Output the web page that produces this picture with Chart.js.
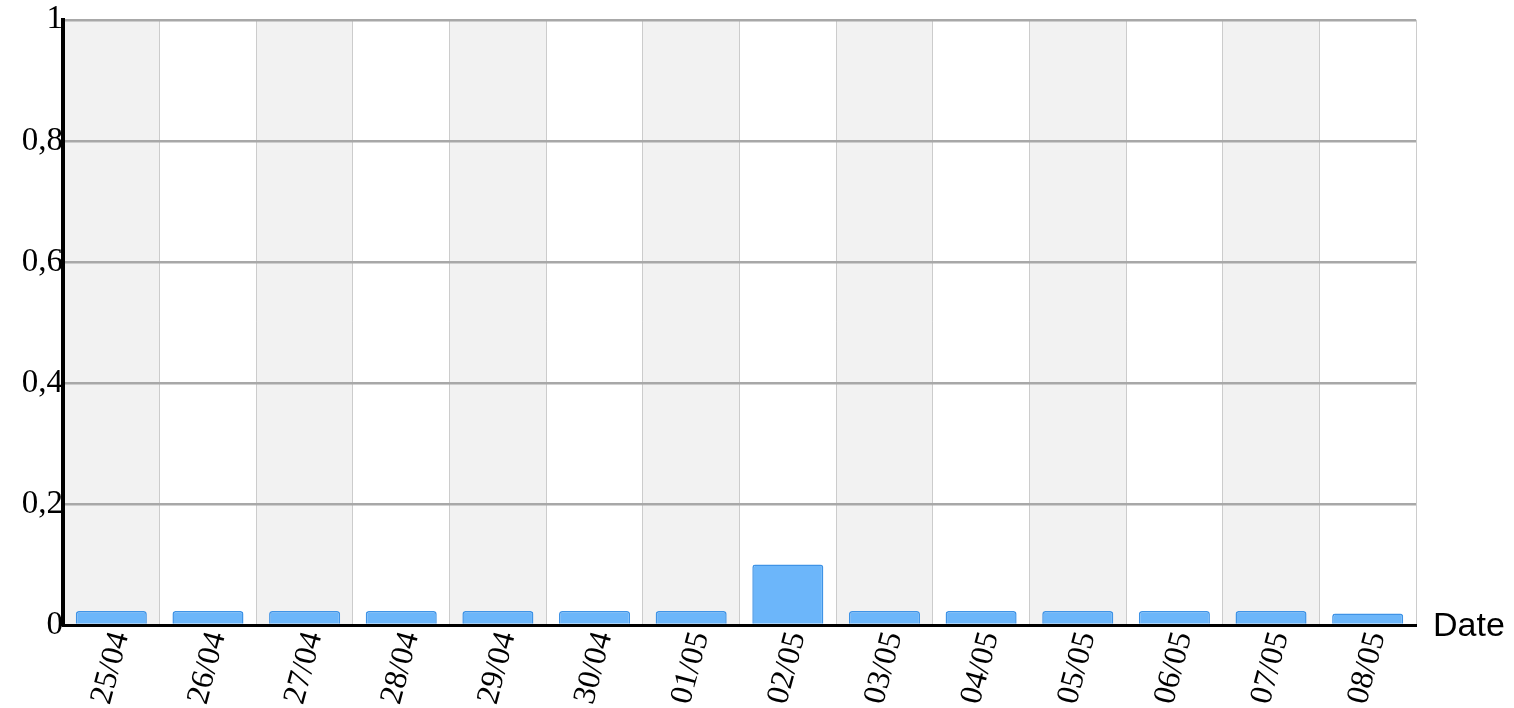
<!DOCTYPE html>
<html>
<head>
<meta charset="utf-8">
<script src="https://cdn.jsdelivr.net/npm/chart.js@4"></script>
<style>
  body{margin:0;background:#fff;}
  #wrap{width:1514px;height:708px;}
</style>
</head>
<body>
<div id="wrap"><canvas id="chart"></canvas></div>
<script>
const dates = ["25/04","26/04","27/04","28/04","29/04","30/04","01/05","02/05","03/05","04/05","05/05","06/05","07/05","08/05"];
const values = [0.023,0.023,0.023,0.023,0.023,0.023,0.023,0.1,0.023,0.023,0.023,0.023,0.023,0.019];
const axisTitle = "Date";

// alternating column background
const stripes = {
  id: "stripes",
  beforeDraw(chart){
    const {ctx, chartArea, scales:{x}} = chart;
    const half = (x.getPixelForValue(1) - x.getPixelForValue(0)) / 2;
    ctx.save();
    ctx.fillStyle = "#f2f2f2";
    dates.forEach((d,i)=>{
      if(i % 2 === 0){
        const c = x.getPixelForValue(i);
        ctx.fillRect(c - half, chartArea.top, half * 2, chartArea.bottom - chartArea.top);
      }
    });
    ctx.restore();
  }
};

// "Date" at the right end of the x axis
const sideTitle = {
  id: "sideTitle",
  afterDraw(chart){
    const {ctx, chartArea, scales:{y}} = chart;
    ctx.save();
    ctx.font = '34px "Liberation Sans", Arial, sans-serif';
    ctx.fillStyle = "#000";
    ctx.textBaseline = "middle";
    ctx.textAlign = "left";
    ctx.fillText(axisTitle, chartArea.right + 17, y.getPixelForValue(0) + 2);
    ctx.restore();
  }
};

new Chart(document.getElementById("chart"),{
  type: "bar",
  data: {
    labels: dates,
    datasets: [{
      data: values,
      backgroundColor: "#6cb6fa",
      borderColor: "#3f93e6",
      borderWidth: 1.5,
      borderRadius: 3,
      borderSkipped: "bottom",
      barPercentage: 0.735,
      categoryPercentage: 1
    }]
  },
  options: {
    responsive: true,
    maintainAspectRatio: false,
    animation: false,
    layout: {padding: {top: 19, right: 98, left: 0, bottom: 0}},
    plugins: {legend: {display: false}, tooltip: {enabled: false}},
    scales: {
      x: {
        grid: {color: "#cccccc", lineWidth: 1, drawTicks: false, offset: true},
        border: {display: true, color: "#000", width: 3},
        ticks: {
          color: "#000",
          font: {family: '"Liberation Serif", "Times New Roman", serif', size: 32},
          minRotation: 75,
          maxRotation: 75,
          autoSkip: false,
          padding: 3,
          labelOffset: 9
        },
        afterFit(scale){ scale.height = 83; }
      },
      y: {
        min: 0,
        max: 1,
        grid: {color: "#a8a8a8", lineWidth: 2.5, drawTicks: false},
        border: {display: true, color: "#000", width: 4},
        ticks: {
          stepSize: 0.2,
          color: "#000",
          font: {family: '"Liberation Serif", "Times New Roman", serif', size: 33},
          padding: 0,
          callback: (value)=>String(Math.round(value*10)/10).replace(".", ",")
        },
        afterFit(scale){ scale.width = 63; }
      }
    }
  },
  plugins: [stripes, sideTitle]
});
</script>
</body>
</html>
